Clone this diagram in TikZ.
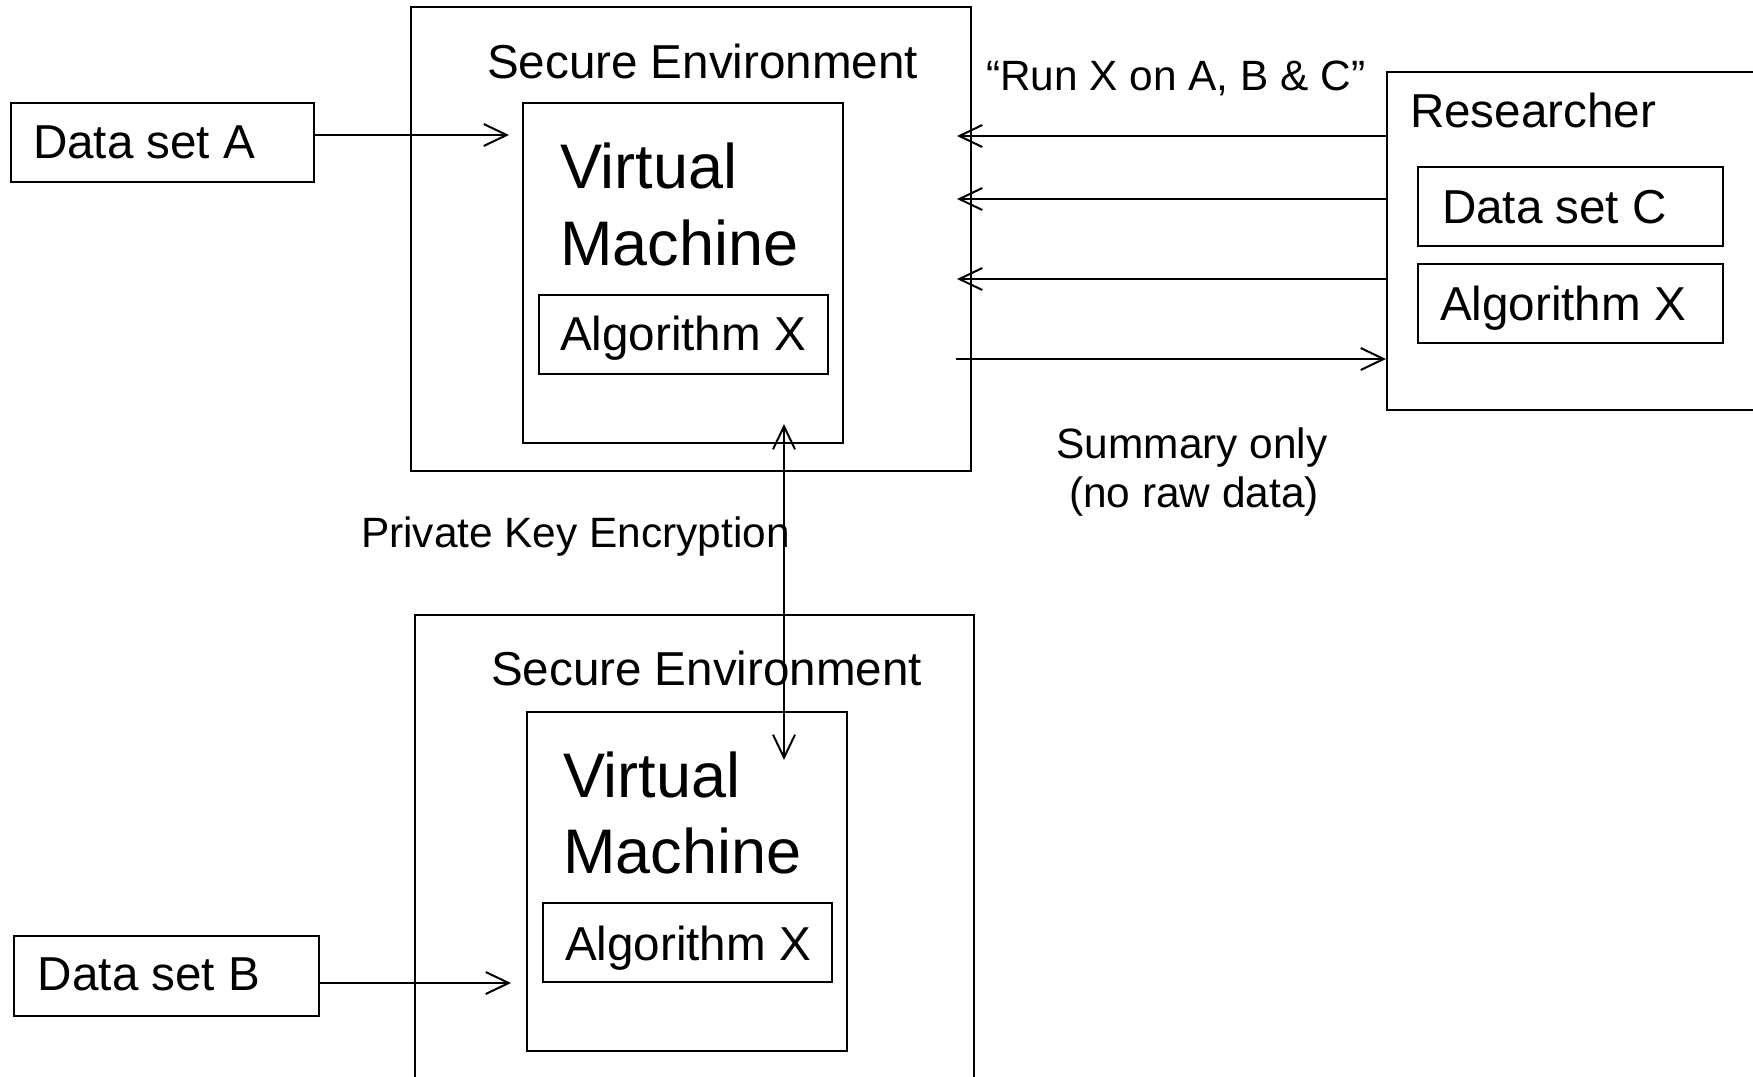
\documentclass[tikz,border=0pt]{standalone}
\usepackage{fontspec}
\setmainfont{Liberation Sans}
\usetikzlibrary{arrows.meta,fit,calc}

\begin{document}
\begin{tikzpicture}[x=0.5pt,y=-0.5pt,
  line width=1pt,
  box/.style={draw, rectangle, inner sep=0pt, line width=1pt},
  txt/.style={anchor=base west, inner sep=0pt, font=\fontsize{23.8}{28}\selectfont},
  bigtxt/.style={anchor=base west, inner sep=0pt, font=\fontsize{31.5}{38}\selectfont},
  lbl/.style={inner sep=0pt, font=\fontsize{21.2}{25}\selectfont},
  arr/.style={-{Straight Barb[length=11.5pt,width=11pt]}},
  dblarr/.style={{Straight Barb[length=11.5pt,width=11pt]}-{Straight Barb[length=11.5pt,width=11pt]}}
]
\useasboundingbox (0,0) rectangle (1753,1077);
\clip (0,0) rectangle (1753,1077);

% upper secure environment
\node[box, fit={(411,7) (971,471)}] (se1) {};
\node[txt] (se1t) at (486,78) {Secure Environment};
\node[box, fit={(523,103) (843,443)}] (vm1) {};
\node[bigtxt] (vm1a) at (559,188) {Virtual};
\node[bigtxt] (vm1b) at (559,265) {Machine};
\node[box, fit={(539,295) (828,374)}] (alg1) {};
\node[txt] (alg1t) at (559,350) {Algorithm X};

% lower secure environment
\node[box, fit={(415,615) (974,1100)}] (se2) {};
\node[txt] (se2t) at (490,685) {Secure Environment};
\node[box, fit={(527,712) (847,1051)}] (vm2) {};
\node[bigtxt] (vm2a) at (562,797) {Virtual};
\node[bigtxt] (vm2b) at (562,873) {Machine};
\node[box, fit={(543,903) (832,982)}] (alg2) {};
\node[txt] (alg2t) at (564,960) {Algorithm X};

% data sets
\node[box, fit={(11,103) (314,182)}] (dsA) {};
\node[txt] (dsAt) at (32,158) {Data set A};
\node[box, fit={(14,936) (319,1016)}] (dsB) {};
\node[txt] (dsBt) at (37,990) {Data set B};

% researcher
\node[box, fit={(1387,72) (1770,410)}] (res) {};
\node[txt] (rest) at (1409,127) {Researcher};
\node[box, fit={(1418,167) (1723,246)}] (dsC) {};
\node[txt] (dsCt) at (1441,223) {Data set C};
\node[box, fit={(1418,264) (1723,343)}] (algR) {};
\node[txt] (algRt) at (1439,320) {Algorithm X};

% labels
\node[lbl, anchor=base west] (run) at (985,90) {“Run X on A, B \& C”};
\node[lbl, anchor=base west] (pke) at (360,547) {Private Key Encryption};
\node[lbl, anchor=base] (sum1) at (1192,458) {Summary only};
\node[lbl, anchor=base] (sum2) at (1194,507) {(no raw data)};

% data flows into the virtual machines
\draw[arr, shorten >=6.5pt] (dsA.east |- 0,135) -- (vm1.west |- 0,135);
\draw[arr, shorten >=7.5pt] (dsB.east |- 0,983) -- (vm2.west |- 0,983);

% researcher requests and returned summary
\draw[arr] (res.west |- 0,136) -- ($(se1.east |- 0,136)+(-15,0)$);
\draw[arr] (res.west |- 0,199) -- ($(se1.east |- 0,199)+(-15,0)$);
\draw[arr] (res.west |- 0,279) -- ($(se1.east |- 0,279)+(-15,0)$);
\draw[arr] ($(se1.east |- 0,359)+(-16,0)$) -- (res.west |- 0,359);

% encrypted link between the two virtual machines
\draw[dblarr] ($(vm1.south -| 784,0)+(0,-20)$) -- ($(vm2.north -| 784,0)+(0,49)$);
\end{tikzpicture}
\end{document}
